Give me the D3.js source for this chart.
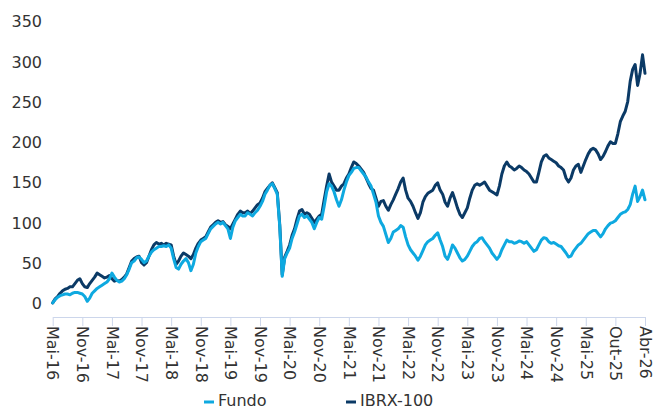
<!DOCTYPE html>
<html>
<head>
<meta charset="utf-8">
<script src="https://cdn.jsdelivr.net/npm/d3@7/dist/d3.min.js"></script>
<style>
  html, body { margin: 0; padding: 0; background: #fff; }
  svg { display: block; font-family: "DejaVu Sans", Verdana, sans-serif; }
</style>
</head>
<body>
<svg id="chart" width="654" height="410"></svg>
<script>
// Half-monthly points, May 2016 .. Apr 2026 (index 0..240)
const fundo = [
  0, 4, 7, 9, 10, 11, 11, 10, 12, 13,
  13, 12, 11, 8, 2, 6, 12, 15, 18, 20,
  22, 24, 26, 30, 37, 32, 28, 26, 27, 30,
  35, 42, 50, 52, 56, 57, 54, 50, 52, 58,
  63, 66, 68, 70, 70, 71, 70, 72, 68, 55,
  44, 42, 48, 52, 55, 50, 40, 48, 62, 70,
  76, 78, 80, 86, 92, 95, 98, 100, 98, 100,
  96, 92, 80, 94, 102, 106, 110, 108, 108, 112,
  110, 108, 112, 115, 120, 126, 135, 140, 146, 148,
  142, 135, 95, 33, 55, 62, 68, 80, 88, 98,
  108, 110, 106, 108, 104, 100, 92, 100, 106, 104,
  120, 138, 148, 145, 138, 128, 120, 128, 140, 150,
  158, 162, 167, 168, 168, 164, 160, 156, 150, 145,
  135, 125, 108, 100, 95, 85, 75, 80, 88, 90,
  92, 96, 94, 82, 72, 66, 62, 58, 53, 58,
  65, 72, 76, 78, 80, 84, 87, 78, 70, 58,
  54, 62, 72, 68, 62, 56, 52, 54, 58, 64,
  70, 74, 76, 80, 81, 76, 72, 68, 62, 58,
  54, 58, 66, 72, 78, 76, 76, 74, 75, 77,
  76, 74, 76, 72, 68, 64, 66, 72, 78, 81,
  80, 76, 74, 75, 73, 71, 70, 66, 62, 57,
  58, 64, 68, 72, 74, 78, 82, 86, 88, 90,
  90, 86, 82, 86, 92, 96, 99, 100, 102, 106,
  110, 112, 113, 116, 122, 135, 145, 126, 132, 140,
  128
];
const ibrx = [
  0, 5, 8, 12, 15, 17, 18, 20, 20, 24,
  28, 30, 24, 20, 19, 24, 28, 32, 37, 35,
  33, 31, 32, 34, 30, 27, 28, 27, 29, 32,
  36, 44, 52, 55, 57, 58, 50, 47, 50, 58,
  66, 72, 75, 73, 74, 72, 74, 73, 72, 58,
  48, 52, 58, 62, 60, 58, 55, 60, 68, 74,
  78, 80, 82, 88, 94, 97, 100, 102, 100, 101,
  97, 95, 92, 98, 104, 110, 114, 112, 112, 114,
  111, 114, 118, 122, 124, 130, 138, 142, 146, 149,
  143, 137, 97, 35, 57, 64, 72, 84, 92, 104,
  114, 116, 110, 112, 110, 105, 100, 104, 108, 110,
  128, 145, 160, 150, 145, 140, 140, 145, 148, 155,
  160, 168, 175, 173, 170, 166, 162, 155, 148, 142,
  140, 130, 120, 126, 127, 120, 115, 122, 128, 135,
  142, 150, 155, 140, 130, 126, 120, 112, 105, 112,
  125, 132, 136, 138, 140, 146, 149, 140, 135, 125,
  120, 130, 137, 128, 118, 110, 106, 112, 118, 130,
  140, 146, 148, 146, 148, 150, 145, 140, 138, 136,
  134, 145, 160, 170, 175, 170, 168, 165, 167, 170,
  168, 165, 163, 160, 155, 150, 150, 162, 175, 182,
  184, 180, 178, 176, 174, 170, 168, 165, 155, 150,
  155, 165, 170, 172, 162, 170, 178, 185, 190, 192,
  190, 185, 178, 182, 188, 195, 200, 198, 198, 210,
  225, 232, 238, 250, 275, 290, 296, 270, 285, 308,
  285
];
const tickLabels = ["Mai-16","Nov-16","Mai-17","Nov-17","Mai-18","Nov-18","Mai-19","Nov-19",
  "Mai-20","Nov-20","Mai-21","Nov-21","Mai-22","Nov-22","Mai-23","Nov-23","Mai-24","Nov-24",
  "Mai-25","Out-25","Abr-26"];
const pointsPerTick = 12;
const yTicks = [0, 50, 100, 150, 200, 250, 300, 350];
const seriesNames = ["Fundo", "IBRX-100"];
const seriesColors = ["#0ea9e0", "#0b3a66"];

const svg = d3.select("#chart");
const x = d3.scaleLinear().domain([0, fundo.length - 1]).range([52.7, 645]);
const y = d3.scaleLinear().domain([-17.5, 350]).range([317, 21]);

// Y axis labels (no line, no ticks)
const yAxis = d3.axisLeft(y).tickValues(yTicks).tickSize(0).tickPadding(0);
const gy = svg.append("g").attr("transform", "translate(42,0)").call(yAxis);
gy.select(".domain").remove();
gy.selectAll("text").attr("fill", "#333").attr("font-size", "16px")
  .attr("font-family", "DejaVu Sans, Verdana, sans-serif").attr("dy", "0.36em");

// X axis
const tickIdx = tickLabels.map((d, i) => i * pointsPerTick);
const xAxis = d3.axisBottom(x).tickValues(tickIdx)
  .tickFormat((d, i) => tickLabels[i]).tickSize(9).tickPadding(0).tickSizeOuter(0);
const gx = svg.append("g").attr("transform", "translate(0,317)").call(xAxis);
gx.select(".domain").attr("stroke", "#ccd6eb");
gx.selectAll(".tick line").attr("stroke", "#ccd6eb");
gx.selectAll(".tick text")
  .attr("fill", "#333").attr("font-size", "16px")
  .attr("font-family", "DejaVu Sans, Verdana, sans-serif")
  .attr("text-anchor", "start")
  .attr("transform", "translate(0,9) rotate(90)")
  .attr("x", 0).attr("y", 0).attr("dy", "0.36em");

// Lines
const line = d3.line().x((d, i) => x(i)).y(d => y(d));
const data = [ibrx, fundo];
const colors = [seriesColors[1], seriesColors[0]];
svg.append("g").selectAll("path").data(data).join("path")
  .attr("d", line)
  .attr("fill", "none")
  .attr("stroke", (d, i) => colors[i])
  .attr("stroke-width", 3)
  .attr("stroke-linejoin", "round")
  .attr("stroke-linecap", "round");

// Legend
const legendX = [204, 346];
const lg = svg.append("g").selectAll("g").data(seriesNames).join("g")
  .attr("transform", (d, i) => `translate(${legendX[i]},0)`);
lg.append("line").attr("x1", 0).attr("x2", 10).attr("y1", 402).attr("y2", 402)
  .attr("stroke", (d, i) => seriesColors[i]).attr("stroke-width", 3);
lg.append("text").attr("x", 14).attr("y", 406).text(d => d)
  .attr("fill", "#333").attr("font-size", "16px");
</script>
</body>
</html>
